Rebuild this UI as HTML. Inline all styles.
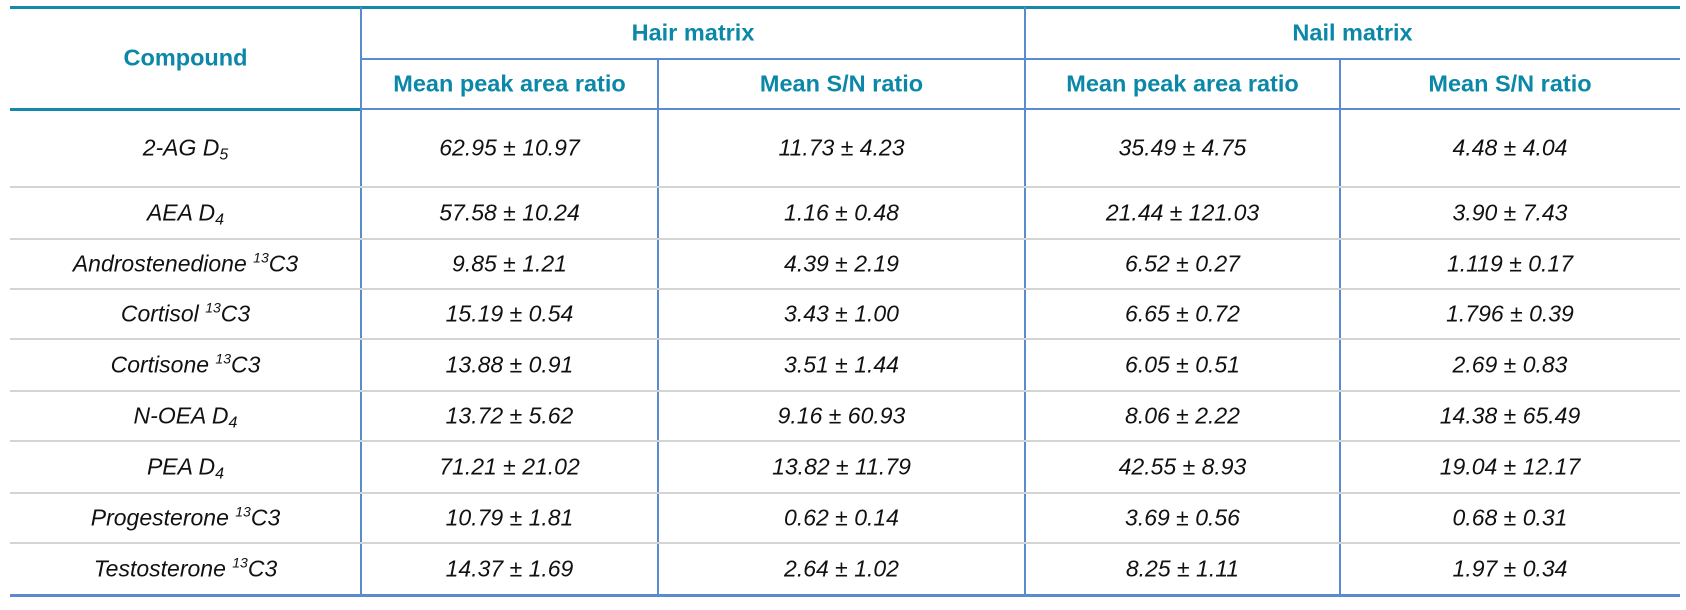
<!DOCTYPE html>
<html><head><meta charset="utf-8"><style>
body{margin:0;width:1686px;height:610px;background:#fff;position:relative;overflow:hidden;font-family:"Liberation Sans",Arial,sans-serif;}
.l{position:absolute}
.h{position:absolute;color:#0b87a8;font-weight:bold;font-size:23.5px;text-align:center;transform:translateY(-50%);white-space:nowrap}
.t{position:absolute;font-style:italic;font-size:23px;color:#111;text-align:center;transform:translateY(-50%);white-space:nowrap}
sub{font-size:16px;vertical-align:-4px;line-height:0}
sup{font-size:14px;vertical-align:9px;line-height:0}
</style></head><body>
<div class="l" style="left:10px;top:6px;width:1670px;height:3px;background:#1489a8"></div>
<div class="l" style="left:10px;top:108px;width:351px;height:3px;background:#1489a8"></div>
<div class="l" style="left:361px;top:108px;width:1319px;height:2px;background:#5a8bd0"></div>
<div class="l" style="left:361px;top:58px;width:1319px;height:2px;background:#5a8bd0"></div>
<div class="l" style="left:10px;top:594px;width:1670px;height:3px;background:#5a8bd0"></div>
<div class="l" style="left:360px;top:7px;width:2px;height:589px;background:#5a8bd0"></div>
<div class="l" style="left:1024px;top:7px;width:2px;height:589px;background:#5a8bd0"></div>
<div class="l" style="left:657px;top:59px;width:2px;height:537px;background:#5a8bd0"></div>
<div class="l" style="left:1339px;top:59px;width:2px;height:537px;background:#5a8bd0"></div>
<div id="rows"></div>
<div class="h" style="left:10px;width:351px;top:58px">Compound</div>
<div class="h" style="left:361px;width:664px;top:33px">Hair matrix</div>
<div class="h" style="left:1025px;width:655px;top:33px">Nail matrix</div>
<div class="h" style="left:361px;width:297px;top:84px">Mean peak area ratio</div>
<div class="h" style="left:658px;width:367px;top:84px">Mean S/N ratio</div>
<div class="h" style="left:1025px;width:315px;top:84px">Mean peak area ratio</div>
<div class="h" style="left:1340px;width:340px;top:84px">Mean S/N ratio</div>
<script>
var lines=[187,239,289,339,391,441,493,543];
var tops=[109].concat(lines).concat([595]);
var data=[
["2-AG D<sub>5</sub>","62.95 ± 10.97","11.73 ± 4.23","35.49 ± 4.75","4.48 ± 4.04"],
["AEA D<sub>4</sub>","57.58 ± 10.24","1.16 ± 0.48","21.44 ± 121.03","3.90 ± 7.43"],
["Androstenedione <sup>13</sup>C3","9.85 ± 1.21","4.39 ± 2.19","6.52 ± 0.27","1.119 ± 0.17"],
["Cortisol <sup>13</sup>C3","15.19 ± 0.54","3.43 ± 1.00","6.65 ± 0.72","1.796 ± 0.39"],
["Cortisone <sup>13</sup>C3","13.88 ± 0.91","3.51 ± 1.44","6.05 ± 0.51","2.69 ± 0.83"],
["N-OEA D<sub>4</sub>","13.72 ± 5.62","9.16 ± 60.93","8.06 ± 2.22","14.38 ± 65.49"],
["PEA D<sub>4</sub>","71.21 ± 21.02","13.82 ± 11.79","42.55 ± 8.93","19.04 ± 12.17"],
["Progesterone <sup>13</sup>C3","10.79 ± 1.81","0.62 ± 0.14","3.69 ± 0.56","0.68 ± 0.31"],
["Testosterone <sup>13</sup>C3","14.37 ± 1.69","2.64 ± 1.02","8.25 ± 1.11","1.97 ± 0.34"]];
var cols=[[10,351],[361,297],[658,367],[1025,315],[1340,340]];
var h="";
lines.forEach(function(y){h+='<div class="l" style="left:10px;top:'+(y-1)+'px;width:1670px;height:2px;background:#d4d4d4"></div>';});
data.forEach(function(r,i){var c=(tops[i]+tops[i+1])/2;
r.forEach(function(v,j){h+='<div class="t" style="left:'+cols[j][0]+'px;width:'+cols[j][1]+'px;top:'+c+'px">'+v+'</div>';});});
document.getElementById("rows").innerHTML=h;
</script>
</body></html>
